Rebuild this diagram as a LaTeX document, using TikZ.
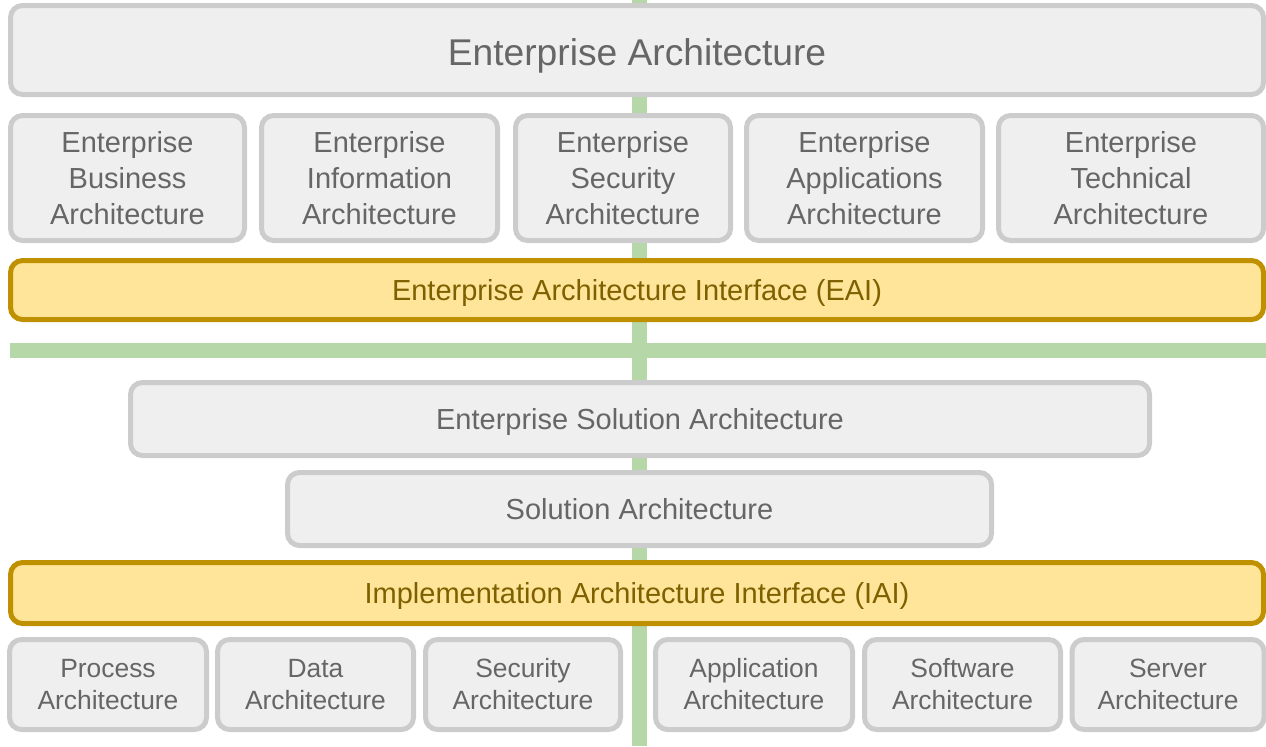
\documentclass[tikz,border=0pt]{standalone}
\usepackage{fontspec}
\setmainfont{Liberation Sans}
\usepackage{tikz}
\usetikzlibrary{positioning}
\definecolor{cajafondo}{HTML}{EFEFEF}
\definecolor{cajaborde}{HTML}{CCCCCC}
\definecolor{cajatexto}{HTML}{666666}
\definecolor{intfondo}{HTML}{FFE599}
\definecolor{intborde}{HTML}{BF9000}
\definecolor{inttexto}{HTML}{7F6000}
\definecolor{verde}{HTML}{B6D7A8}

\begin{document}
\begin{tikzpicture}[x=0.75pt, y=-0.75pt,
    caja/.style={rectangle, rounded corners=9pt, draw=cajaborde, fill=cajafondo,
      line width=3.75pt, text=cajatexto, align=center, inner sep=0pt,
      font=\fontsize{21.75}{27}\selectfont},
    linea/.style={caja, text depth=0pt},
    interfaz/.style={linea, draw=intborde, fill=intfondo, text=inttexto},
    pequena/.style={caja, minimum height=67.5pt, font=\fontsize{19.8}{24}\selectfont},
    barra/.style={draw=verde, line width=11.25pt}]
    \useasboundingbox (0,0) rectangle (1266,746);

    % Barras verdes (fondo)
    \coordinate (vtop) at (639.5,0);
    \coordinate (vbot) at (639.5,746);
    \coordinate (hizq) at (10,350.5);
    \coordinate (hder) at (1266,350.5);
    \draw[barra] (vtop) -- (vbot);
    \draw[barra] (hizq) -- (hder);

    % Nivel empresa
    \node[linea, minimum width=939.75pt, minimum height=66.75pt, text height=23pt,
      font=\fontsize{27.9}{33}\selectfont] (ea) at (637,50) {Enterprise Architecture};
    \node[caja, minimum width=175.5pt, minimum height=93.75pt] (eba) at (127.5,178)
      {Enterprise\\Business\\Architecture};
    \node[caja, minimum width=177pt, minimum height=93.75pt] (eia) at (379.5,178)
      {Enterprise\\Information\\Architecture};
    \node[caja, minimum width=161.25pt, minimum height=93.75pt] (esa) at (623,178)
      {Enterprise\\Security\\Architecture};
    \node[caja, minimum width=177pt, minimum height=93.75pt] (eaa) at (864.5,178)
      {Enterprise\\Applications\\Architecture};
    \node[caja, minimum width=198.75pt, minimum height=93.75pt] (eta) at (1131,178)
      {Enterprise\\Technical\\Architecture};
    \node[interfaz, minimum width=939.75pt, minimum height=44.25pt] (eai) at (637,290)
      {Enterprise Architecture Interface (EAI)};

    % Nivel solucion
    \node[linea, minimum width=764.25pt, minimum height=54.75pt] (esol) at (640,419)
      {Enterprise Solution Architecture};
    \node[linea, minimum width=528pt, minimum height=54.75pt] (sol) at (639.5,509)
      {Solution Architecture};
    \node[interfaz, minimum width=939.75pt, minimum height=45.75pt] (iai) at (637,593)
      {Implementation Architecture Interface (IAI)};

    % Nivel implementacion
    \node[pequena, minimum width=147.75pt] (proc) at (108,684.5) {Process\\Architecture};
    \node[pequena, minimum width=147pt] (data) at (315.5,684.5) {Data\\Architecture};
    \node[pequena, minimum width=146.25pt] (sec) at (523,684.5) {Security\\Architecture};
    \node[pequena, minimum width=147.75pt] (app) at (754,684.5) {Application\\Architecture};
    \node[pequena, minimum width=147pt] (soft) at (962.5,684.5) {Software\\Architecture};
    \node[pequena, minimum width=144pt] (serv) at (1168,684.5) {Server\\Architecture};
\end{tikzpicture}
\end{document}
